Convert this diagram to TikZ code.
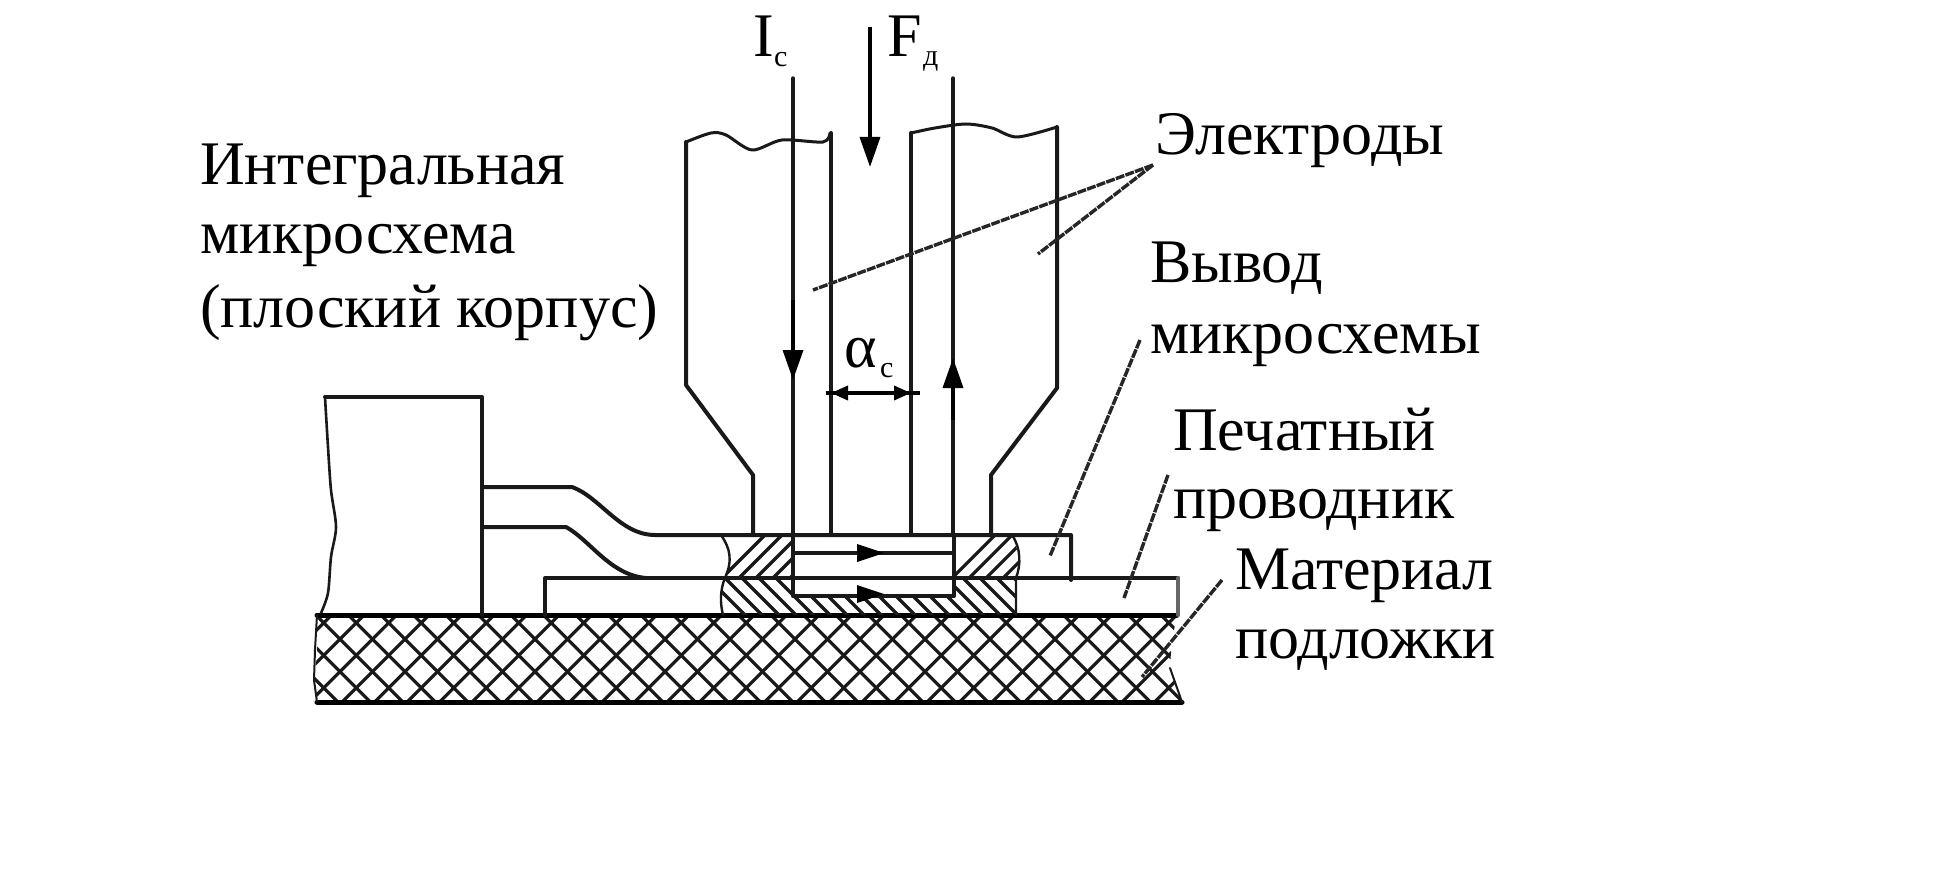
\documentclass[tikz,border=0pt]{standalone}
\usepackage{fontspec}
\setmainfont{Liberation Serif}
\usetikzlibrary{arrows.meta}
\tikzset{
  every node/.style={inner sep=0pt,outer sep=0pt,anchor=base west},
  lab/.style={font=\fontsize{62}{62}\selectfont},
  subl/.style={font=\fontsize{30}{30}\selectfont},
  ln/.style={line width=4pt,black!90,line cap=round,line join=round},
  thick line/.style={line width=5pt,black,line cap=round},
  hatchln/.style={line width=3.2pt,black!90},
  leader/.style={line width=3.4pt,black!85,dash pattern=on 9pt off 1.2pt},
  tipbig/.style={-{Triangle[length=30pt,width=20pt]}},
  tipdim/.style={{Triangle[length=17pt,width=14pt]}-{Triangle[length=17pt,width=14pt]}}
}
\begin{document}
\begin{tikzpicture}[x=1pt,y=-1pt]
\useasboundingbox (0,0) rectangle (1955,869);
\fill[white] (0,0) rectangle (1955,869);

% ---- substrate cross hatch
\begin{scope}
 \clip (317,615) -- (1177,615) -- (1172,640) -- (1170,665) -- (1182,702) -- (317,702) -- (314,680) -- (317,655) -- cycle;
 \foreach \k in {-8,...,40}{
   \draw[hatchln] (300,{1384.2-300+\k*32.5-600}) ++(0,0) -- ++(1000,-1000);
 }
 \foreach \k in {-40,...,20}{
   \draw[hatchln] (300,{300-90.8+\k*32.5}) -- ++(1000,1000);
 }
\end{scope}
\draw[thick line] (317,615) -- (1177,615);
\draw[thick line] (317,702) -- (1182,702);
\draw[ln,line width=2pt] (317,615) -- (315,650) -- (314,680) -- (317,702);
\draw[ln,line width=2pt] (1170,668) -- (1182,702);

% ---- weld hatches
\begin{scope}
 \clip (723,535) -- (728,545) -- (731,557) -- (727,570) -- (724,578) -- (792,578) -- (792,535) -- cycle;
 \foreach \k in {0,...,10}{ \draw[hatchln] ({700+\k*17},600) -- ++(90,-90); }
\end{scope}
\begin{scope}
 \clip (954,535) -- (1012,535) -- (1019,555) -- (1019,570) -- (1016,578) -- (954,578) -- cycle;
 \foreach \k in {0,...,10}{ \draw[hatchln] ({930+\k*17},600) -- ++(90,-90); }
\end{scope}
\begin{scope}
 \clip (724,578) -- (720,600) -- (723,615) -- (1016,615) -- (1016,578) -- (954,578) -- (954,596) -- (792,596) -- (792,578) -- cycle;
 \foreach \k in {0,...,22}{ \draw[hatchln] ({690+\k*17},560) -- ++(70,70); }
\end{scope}
\draw[ln,line width=2.4pt] (721,535) .. controls (730,548) and (733,560) .. (725,578) .. controls (720,590) and (720,603) .. (723,615);
\draw[ln,line width=2.4pt] (1012,535) .. controls (1021,548) and (1021,565) .. (1016,578) -- (1016,615);

% ---- chip
\draw[ln] (325,397) -- (482,397) -- (482,615);
\draw[ln,line width=2.6pt] plot[smooth] coordinates {(325,397) (328,447) (331,490) (336,527) (331,557) (328,593) (321,613)};

% ---- chip lead
\draw[ln] (482,487) -- (572,487) .. controls (600,497) and (620,535) .. (655,535) -- (1071,535) -- (1071,580);
\draw[ln] (482,527) -- (566,527) .. controls (590,540) and (610,575) .. (646,578);

% ---- printed conductor
\draw[ln] (545,615) -- (545,578) -- (1178,578);
\draw[ln,black!60] (1178,578) -- (1178,615);

% ---- electrodes
\coordinate (le1) at (686,142);
\draw[ln] (831,133) -- (831,535);
\draw[ln,line width=3pt] plot[smooth] coordinates {(686,142) (711,133) (726,135) (752,150) (782,140) (823,142) (830,133)};
\draw[ln] (686,142) -- (686,385) -- (753,475) -- (753,535);
\draw[ln] (911,133) -- (911,535);
\draw[ln,line width=3pt] plot[smooth] coordinates {(911,133) (935,128) (966,124) (992,128) (1017,137) (1057,127)};
\draw[ln] (1057,127) -- (1057,388) -- (991,475) -- (991,535);

% ---- inner contact rectangle and its arrows
\draw[ln] (793,535) -- (793,596) -- (954,596) -- (954,535);
\draw[ln] (793,553) -- (954,553);
\fill[black] (857,544) -- (884,553) -- (857,562) -- cycle;
\fill[black] (857,585) -- (884,594) -- (857,603) -- cycle;

% ---- current and force arrows
\coordinate (ci) at (793,78);  \coordinate (cm) at (793,380); \coordinate (cb) at (793,535);
\coordinate (co) at (953,78);  \coordinate (om) at (953,358); \coordinate (ob) at (953,535);
\coordinate (ft) at (870,27);  \coordinate (fb) at (870,167);
\draw[ln,line width=3.4pt] (ci) -- (cb);
\draw[ln,line width=3.4pt] (co) -- (ob);
\draw[line width=3.4pt,black,tipbig] (793,300) -- (cm);
\draw[line width=3.4pt,black,tipbig] (953,420) -- (om);
\draw[line width=3.4pt,black,tipbig] (ft) -- (fb);

% ---- gap dimension
\coordinate (d1) at (826,393); \coordinate (d2) at (920,393);
\coordinate (dl) at (831,393); \coordinate (dr) at (911,393);
\draw[line width=3.6pt,black] (d1) -- (d2);
\draw[line width=3.6pt,black,tipdim] (dl) -- (dr);

% ---- labels
\node[lab] (lI) at (753,57) {I};
\node[subl] (lIc) at (774,67) {с};
\node[lab] (lF) at (887,57) {F};
\node[subl] (lFd) at (923,66) {д};
\node[lab] (la) at (844,367) {α};
\node[subl] (lac) at (880,377) {с};
\node[lab] (lel) at (1155,155) {Электроды};
\node[lab] (lic1) at (200,185) {Интегральная};
\node[lab] (lic2) at (200,254) {микросхема};
\node[lab] (lic3) at (200,327) {(плоский корпус)};
\node[lab] (lv1) at (1150,283) {Вывод};
\node[lab] (lv2) at (1150,353) {микросхемы};
\node[lab] (lp1) at (1173,450) {Печатный};
\node[lab] (lp2) at (1173,518) {проводник};
\node[lab] (lm1) at (1235,589) {Материал};
\node[lab] (lm2) at (1235,658) {подложки};

% ---- leaders
\coordinate (eA) at (1153,165);
\coordinate (eL) at (813,290);
\coordinate (eR) at (1038,254);
\coordinate (vA) at (1140,340);
\coordinate (vE) at (1050,556);
\coordinate (pA) at (1168,475);
\coordinate (pE) at (1124,598);
\coordinate (mA) at (1222,580);
\coordinate (mE) at (1142,677);
\draw[leader] (eA) -- (eL);
\draw[leader] (eA) -- (eR);
\draw[leader] (vA) -- (vE);
\draw[leader] (pA) -- (pE);
\draw[leader] (mA) -- (mE);
\end{tikzpicture}
\end{document}
